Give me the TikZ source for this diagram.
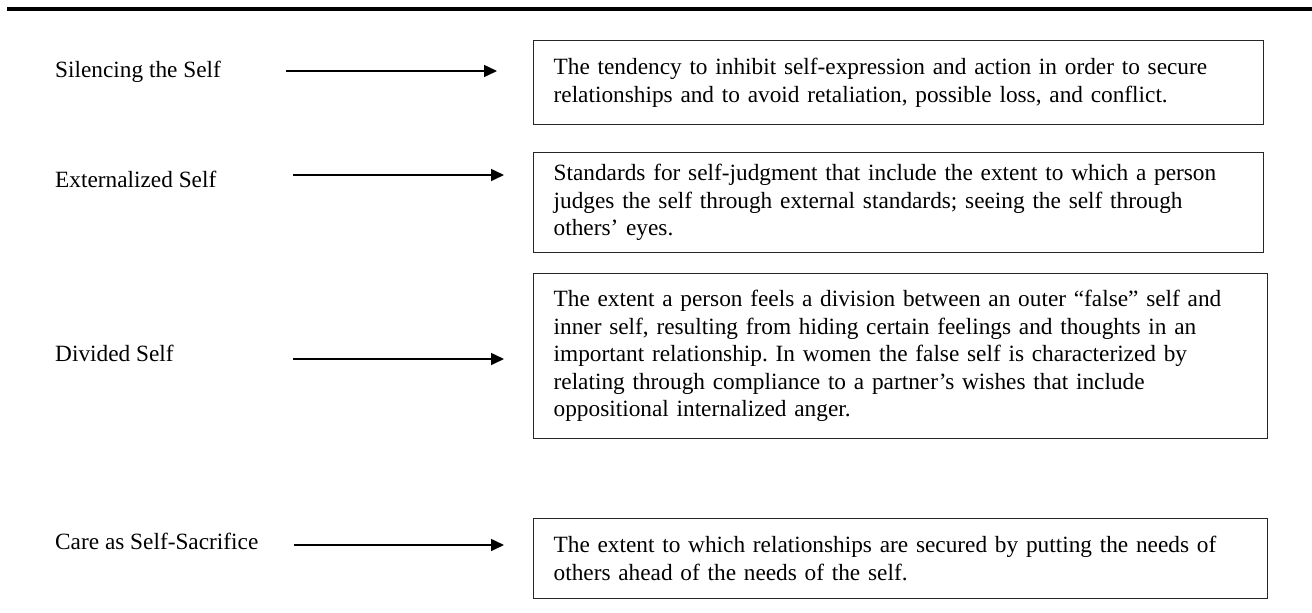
\documentclass[tikz,border=0pt]{standalone}
\usepackage{fontspec}
\setmainfont{Liberation Serif}
\frenchspacing
\usetikzlibrary{arrows.meta}

\begin{document}
\begin{tikzpicture}[x=1pt,y=-1pt,
    every node/.style={font=\fontsize{23.3pt}{27.5pt}\selectfont},
    scale label/.style={anchor=base west,inner sep=0pt},
    defbox/.style={draw=black!85,line width=1.3pt,anchor=north west,align=left,
        inner xsep=20pt,inner ysep=0pt,text width=690pt},
    conn/.style={line width=1.6pt,-{Triangle[length=13pt,width=12pt]}}]
\useasboundingbox (0,0) rectangle (1312,613);

\draw[line width=4pt] (7,9)--(1312,9);

\node[scale label] (silencing) at (55,77) {Silencing the Self};
\node[scale label] (external) at (55,187) {Externalized Self};
\node[scale label] (divided) at (55,361) {Divided Self};
\node[scale label] (care) at (55,549) {Care as Self-Sacrifice};

\node[defbox,minimum height=84pt] (silencingdef) at (533,40)
  {The tendency to inhibit self-expression and action in order to secure\\
   relationships and to avoid retaliation, possible loss, and conflict.};
\node[defbox,minimum height=100pt] (externaldef) at (533,152)
  {Standards for self-judgment that include the extent to which a person\\
   judges the self through external standards; seeing the self through\\
   others’ eyes.};
\node[defbox,minimum height=165pt,text width=694pt] (divideddef) at (533,273)
  {The extent a person feels a division between an outer “false” self and\\
   inner self, resulting from hiding certain feelings and thoughts in an\\
   important relationship. In women the false self is characterized by\\
   relating through compliance to a partner’s wishes that include\\
   oppositional internalized anger.};
\node[defbox,minimum height=80pt,text width=694pt] (caredef) at (533,518)
  {The extent to which relationships are secured by putting the needs of\\
   others ahead of the needs of the self.};

\coordinate (s1) at (286,71);  \coordinate (e1) at (497,71);
\coordinate (s2) at (293,175); \coordinate (e2) at (504,175);
\coordinate (s3) at (293,359); \coordinate (e3) at (504,359);
\coordinate (s4) at (294,545); \coordinate (e4) at (504,545);
\foreach \i in {1,...,4}
  \draw[conn] (s\i)--(e\i);
\end{tikzpicture}
\end{document}
